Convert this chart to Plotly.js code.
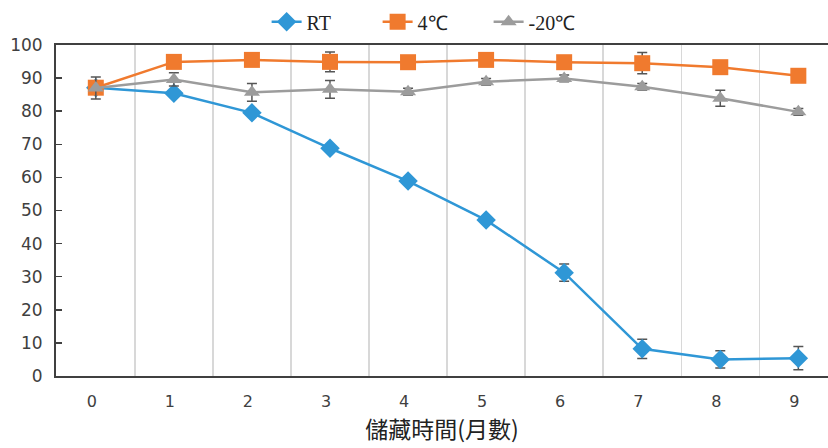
<!DOCTYPE html>
<html>
<head>
<meta charset="utf-8">
<script src="https://cdn.plot.ly/plotly-3.0.1.min.js"></script>
<style>
  html, body { margin: 0; padding: 0; background: #ffffff; }
  #chart { width: 828px; height: 448px; }
</style>
</head>
<body>
<div id="chart"></div>
<script>
// Storage months
const months = [0, 1, 2, 3, 4, 5, 6, 7, 8, 9];

// Room temperature
const rtValues = [87.1, 85.4, 79.5, 68.8, 58.9, 47.1, 31.2, 8.2, 5.0, 5.4];
const rtErrors = [1.0, 0.6, 0.6, 0.6, 1.0, 1.0, 2.6, 2.9, 2.6, 3.5];

// 4°C
const c4Values = [87.1, 94.9, 95.5, 94.9, 94.8, 95.5, 94.8, 94.5, 93.3, 90.7];
const c4Errors = [1.0, 0.6, 0.6, 3.0, 0.6, 0.6, 0.6, 3.2, 0.6, 0.6];

// -20°C
const m20Values = [87.0, 89.6, 85.7, 86.6, 85.9, 88.9, 89.9, 87.4, 83.9, 79.8];
const m20Errors = [3.3, 2.0, 2.7, 2.7, 1.0, 1.0, 1.0, 1.0, 2.4, 1.0];

const seriesNames = ['RT', '4℃', '-20℃'];
const yTicks = [0, 10, 20, 30, 40, 50, 60, 70, 80, 90, 100];

function errorBars(arr) {
  return { type: 'data', array: arr, visible: true, color: '#555555', thickness: 1.5, width: 5 };
}

const traces = [
  {
    x: months, y: rtValues, name: seriesNames[0], type: 'scatter', mode: 'lines+markers',
    line: { color: '#2F97D6', width: 2.5 },
    marker: { symbol: 'diamond', size: 15, color: '#2F97D6' },
    error_y: errorBars(rtErrors)
  },
  {
    x: months, y: c4Values, name: seriesNames[1], type: 'scatter', mode: 'lines+markers',
    line: { color: '#F07A2E', width: 2.5 },
    marker: { symbol: 'square', size: 16, color: '#F07A2E' },
    error_y: errorBars(c4Errors)
  },
  {
    x: months, y: m20Values, name: seriesNames[2], type: 'scatter', mode: 'lines+markers',
    line: { color: '#9C9C9C', width: 2.5 },
    marker: { symbol: 'triangle-up', size: 14, color: '#9C9C9C' },
    error_y: errorBars(m20Errors)
  }
];

const layout = {
  width: 828,
  height: 448,
  margin: { l: 56, r: 0, t: 45, b: 72 },
  paper_bgcolor: '#ffffff',
  plot_bgcolor: '#ffffff',
  showlegend: true,
  legend: {
    orientation: 'h',
    xref: 'container', x: 0.322, xanchor: 'left',
    yref: 'container', y: 0.995, yanchor: 'top',
    font: { family: 'Liberation Serif, serif', size: 20, color: '#222222' },
    entrywidth: 66,
    entrywidthmode: 'pixels',
    traceorder: 'normal'
  },
  xaxis: {
    range: [-0.51, 9.38],
    tickmode: 'array',
    tickvals: months,
    ticktext: months.map(String),
    ticks: '',
    showgrid: false,
    zeroline: false,
    showline: true,
    linecolor: '#404040',
    linewidth: 2,
    mirror: true,
    ticklabelshift: -4,
    ticklabelstandoff: 10,
    tickfont: { family: 'DejaVu Sans, sans-serif', size: 16, color: '#404040' },
    minor: {
      tickmode: 'linear', tick0: 0.5, dtick: 1,
      showgrid: true, gridcolor: '#d8d8d8', gridwidth: 1.5, ticks: ''
    },
    title: {
      text: '儲藏時間(月數)',
      font: { family: 'Noto Sans CJK TC, sans-serif', size: 23, color: '#222222' },
      standoff: 11
    }
  },
  yaxis: {
    range: [0, 100],
    tickmode: 'array',
    tickvals: yTicks,
    ticks: 'inside',
    ticklen: 6,
    tickwidth: 1.5,
    tickcolor: '#404040',
    showgrid: false,
    zeroline: false,
    showline: true,
    linecolor: '#404040',
    linewidth: 2,
    ticklabelstandoff: 8,
    tickfont: { family: 'DejaVu Sans, sans-serif', size: 17, color: '#404040' }
  }
};

Plotly.newPlot('chart', traces, layout, { displayModeBar: false, staticPlot: true });
</script>
</body>
</html>
